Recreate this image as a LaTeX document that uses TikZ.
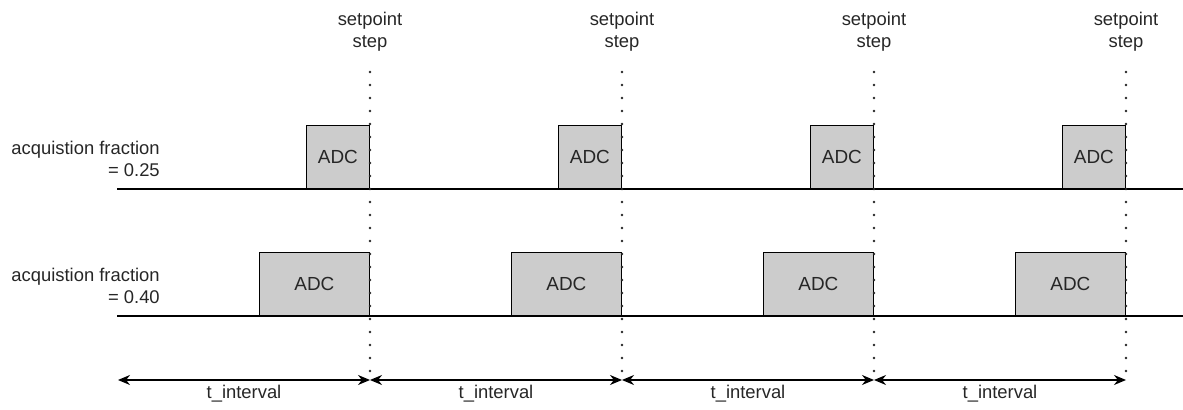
\documentclass[tikz,border=0pt]{standalone}
\usepackage{fontspec}
\setmainfont{Liberation Sans}
\usetikzlibrary{arrows.meta}
\begin{document}
\begin{tikzpicture}[x=0.75pt,y=-0.75pt,
  txt/.style={font=\fontsize{13.8}{16.5}\selectfont, text=black!85, inner sep=0pt},
  adc/.style={draw=black, line width=0.9pt, fill=black!20, inner sep=0pt,
    minimum height=47.25pt, font=\fontsize{14.2}{16.5}\selectfont, text=black!85, anchor=south east},
  base/.style={line width=0.9pt},
  stepline/.style={line width=2.2pt, line cap=round, dash pattern=on 0pt off 9.75pt, black!85},
  span/.style={line width=0.9pt, {Stealth[length=9pt,width=7.5pt]}-{Stealth[length=9pt,width=7.5pt]}}]
\useasboundingbox (0,0) rectangle (1183,410);

% row labels
\node[txt, align=right, anchor=east] (lab1) at (160,159) {acquistion fraction\\= 0.25};
\node[txt, align=right, anchor=east] (lab2) at (160,286) {acquistion fraction\\= 0.40};

% baselines
\coordinate (b1s) at (117,189); \coordinate (b1e) at (1183,189);
\coordinate (b2s) at (117,316); \coordinate (b2e) at (1183,316);
\draw[base] (b1s) -- (b1e);
\draw[base] (b2s) -- (b2e);

\foreach \i in {1,...,4} {
  \pgfmathsetmacro\xx{370+252*(\i-1)}
  \node[txt, align=center] (sp\i) at (\xx,32) {setpoint\\step};
  \node[adc, minimum width=47.25pt] (a\i) at (\xx,189) {ADC};
  \node[adc, minimum width=82.5pt] (b\i) at (\xx,316) {ADC};
  \coordinate (top\i) at (\xx,72);
  \coordinate (bot\i) at (\xx,382);
  \draw[stepline] (top\i) -- (bot\i);
  \coordinate (L\i) at (\xx-252,380);
  \coordinate (R\i) at (\xx,380);
  \draw[span] (L\i) -- (R\i);
  \node[txt] (t\i) at (\xx-126,394) {t\_interval};
}
\end{tikzpicture}
\end{document}
